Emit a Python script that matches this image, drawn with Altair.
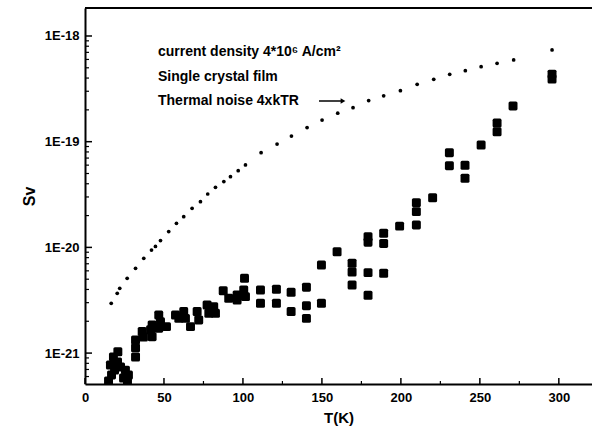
import altair as alt
import pandas as pd

# ---------------- data ----------------
T_thermal = [16.6, 20.4, 22.0, 26.7, 32.0, 37.2, 42.1, 44.6, 47.8, 53.0, 57.9, 62.5,
             67.8, 73.1, 77.7, 82.6, 87.9, 92.1, 97.0, 101.6, 111.5, 121.6, 130.7,
             140.6, 150.1, 160.0, 169.7, 179.6, 189.1, 199.7, 210.3, 220.8, 230.9,
             240.8, 250.8, 260.9, 271.4, 295.7]
S_thermal = [2.96e-21, 3.68e-21, 4.1e-21, 5.1e-21, 6.34e-21, 7.88e-21, 9.44e-21, 1.02e-20,
             1.16e-20, 1.41e-20, 1.69e-20, 1.95e-20, 2.34e-20, 2.71e-20, 3.2e-20, 3.7e-20,
             4.19e-20, 4.67e-20, 5.32e-20, 6.03e-20, 7.87e-20, 9.5e-20, 1.13e-19, 1.36e-19,
             1.6e-19, 1.86e-19, 2.1e-19, 2.45e-19, 2.72e-19, 3.04e-19, 3.49e-19, 3.89e-19,
             4.34e-19, 4.7e-19, 5.13e-19, 5.52e-19, 5.93e-19, 7.38e-19]

T_meas = [14.9, 16.8, 18.7, 20.8, 20.6, 22.5, 24.4, 26.9, 16.1, 25.6, 18.0, 27.5,
          32.0, 32.0, 32.0, 36.2, 37.0, 42.5, 41.5, 42.5, 46.7, 47.8, 46.7, 51.6,
          57.3, 59.4, 62.5, 63.6, 66.8, 71.0, 72.0, 77.3, 78.4, 81.5, 82.6,
          87.5, 91.0, 96.3, 96.3, 101.0, 100.5, 101.6, 111.1, 111.1, 121.2, 121.2,
          130.5, 130.5, 140.2, 140.2, 140.2, 149.7, 149.7, 159.6, 169.1, 169.1, 169.1,
          179.2, 179.2, 179.2, 179.2, 189.1, 189.1, 189.1, 199.2, 209.8, 209.8, 209.8,
          220.1, 230.7, 230.7, 240.6, 240.6, 250.8, 260.9, 260.9, 271.0, 295.7, 295.7]
S_meas = [5.45e-22, 6.21e-22, 6.92e-22, 1.03e-21, 8.24e-22, 7.39e-22, 5.81e-22, 5.45e-22,
          7.7e-22, 6.9e-22, 9.2e-22, 6.2e-22,
          1.33e-21, 1.12e-21, 9.18e-22, 1.6e-21, 1.42e-21, 1.85e-21, 1.66e-21, 1.43e-21,
          2.29e-21, 1.98e-21, 1.72e-21, 1.78e-21, 2.29e-21, 2.13e-21, 2.47e-21, 2.13e-21,
          1.78e-21, 2.47e-21, 2.06e-21, 2.85e-21, 2.38e-21, 2.75e-21, 2.38e-21,
          3.89e-21, 3.3e-21, 3.55e-21, 3.18e-21, 5.1e-21, 3.95e-21, 3.42e-21, 3.95e-21,
          2.96e-21, 4.02e-21, 2.96e-21, 3.76e-21, 2.47e-21, 4.2e-21, 2.81e-21, 2.13e-21,
          6.81e-21, 2.96e-21, 9.1e-21, 7.08e-21, 5.85e-21, 4.41e-21,
          1.26e-20, 1.12e-20, 5.77e-21, 3.52e-21, 1.36e-20, 1.09e-20, 5.69e-21, 1.59e-20,
          2.65e-20, 2.18e-20, 1.63e-20, 2.95e-20, 7.87e-20, 5.93e-20, 5.98e-20, 4.51e-20,
          9.31e-20, 1.5e-19, 1.24e-19, 2.18e-19, 4.36e-19, 3.92e-19]

x_major = [0, 50, 100, 150, 200, 250, 300]
x_minor = [25, 75, 125, 175, 225, 275]
y_major = [1e-21, 1e-20, 1e-19, 1e-18]
y_minor = [m * 10.0 ** e for e in (-22, -21, -20, -19) for m in range(2, 10)]
y_minor = [v for v in y_minor if 5.1e-22 <= v <= 1.84e-18]

annot_lines = ["current density 4*10\u2076 A/cm\u00b2", "Single crystal film", "Thermal noise 4xkTR"]

# ---------------- layout ----------------
FONT = "Liberation Sans"
W, H = 507, 376

x_scale = alt.Scale(domain=[0, 321], nice=False, zero=False)
y_scale = alt.Scale(type="log", domain=[5.1e-22, 1.84e-18], nice=False)

x_axis = alt.Axis(values=x_major, title="T(K)", ticks=False, grid=False,
                  domainColor="black", domainWidth=2, labelFlush=False,
                  labelFont=FONT, labelFontSize=13, labelFontWeight="bold", labelColor="black",
                  labelPadding=7, titleFont=FONT, titleFontSize=15, titleFontWeight="bold",
                  titleColor="black", titlePadding=6)
y_axis = alt.Axis(values=y_major, title="Sv", ticks=False, grid=False,
                  domainColor="black", domainWidth=2, labelFlush=False,
                  labelExpr="'1E-' + round(-log(datum.value)/LN10)",
                  labelFont=FONT, labelFontSize=13, labelFontWeight="bold", labelColor="black",
                  labelPadding=6, titleFont=FONT, titleFontSize=16, titleFontWeight="bold",
                  titleColor="black", titlePadding=7)

X = lambda: alt.X("T:Q", scale=x_scale, axis=x_axis)
Y = lambda: alt.Y("S:Q", scale=y_scale, axis=y_axis)

RSQ = ("M -0.65 -1 L 0.65 -1 Q 1 -1 1 -0.65 L 1 0.65 Q 1 1 0.65 1 L -0.65 1 "
       "Q -1 1 -1 0.65 L -1 -0.65 Q -1 -1 -0.65 -1 Z")

meas = pd.DataFrame({"T": T_meas, "S": S_meas})
therm = pd.DataFrame({"T": T_thermal, "S": S_thermal})

meas_layer = alt.Chart(meas).mark_point(shape=RSQ, filled=True, size=80, color="black",
                                        opacity=1, clip=True).encode(x=X(), y=Y())

therm_layer = alt.Chart(therm).mark_point(shape="circle", filled=True, size=14,
                                          color="black", opacity=1).encode(x=X(), y=Y())

ymaj = alt.Chart(pd.DataFrame({"S": y_major})).mark_rule(color="black", strokeWidth=1.5).encode(
    y=Y(), x=alt.value(0), x2=alt.value(7))
ymin = alt.Chart(pd.DataFrame({"S": y_minor})).mark_rule(color="black", strokeWidth=1.2).encode(
    y=Y(), x=alt.value(0), x2=alt.value(4))
xmaj = alt.Chart(pd.DataFrame({"T": x_major})).mark_rule(color="black", strokeWidth=1.5).encode(
    x=X(), y=alt.value(H), y2=alt.value(H - 6))
xmin = alt.Chart(pd.DataFrame({"T": x_minor})).mark_rule(color="black", strokeWidth=1.2).encode(
    x=X(), y=alt.value(H), y2=alt.value(H - 3))

top_border = alt.Chart(pd.DataFrame({"a": [0]})).mark_rule(color="black", strokeWidth=2).encode(
    x=alt.value(0), x2=alt.value(W), y=alt.value(0))

text_layers = []
for i, line in enumerate(annot_lines):
    text_layers.append(
        alt.Chart(pd.DataFrame({"t": [line]})).mark_text(
            font=FONT, fontSize=14, fontWeight="bold", color="black",
            align="left", baseline="middle").encode(
            text="t:N", x=alt.value(73), y=alt.value(44 + i * 24.5)))

arrow_line = alt.Chart(pd.DataFrame({"a": [0]})).mark_rule(color="black", strokeWidth=1.5).encode(
    x=alt.value(234), x2=alt.value(256), y=alt.value(93))
arrow_head = alt.Chart(pd.DataFrame({"a": [0]})).mark_point(
    shape="triangle-right", filled=True, size=30, color="black", opacity=1).encode(
    x=alt.value(258), y=alt.value(93))

chart = alt.layer(meas_layer, therm_layer, ymaj, ymin, xmaj, xmin, top_border,
                  *text_layers, arrow_line, arrow_head).properties(
    width=W, height=H,
    padding={"left": 85, "top": 8, "right": 0, "bottom": 54},
    autosize=alt.AutoSizeParams(type="none"),
    background="white",
).configure_view(stroke=None)

chart.save("out.html", embed_options={"renderer": "svg", "actions": False})
